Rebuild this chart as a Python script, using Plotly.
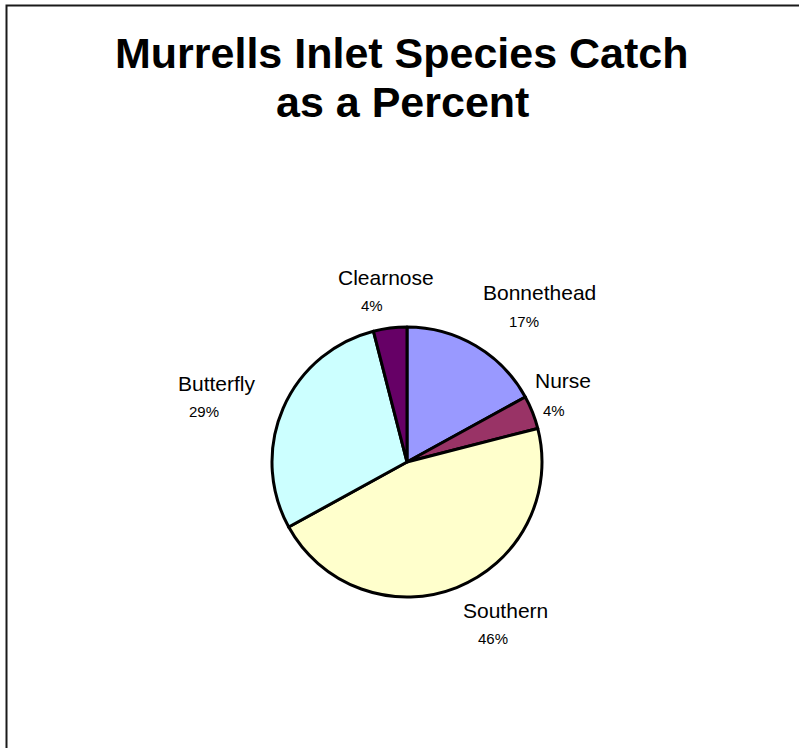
import plotly.graph_objects as go

# Catch share by species (percent of total catch)
species = ["Bonnethead", "Nurse", "Southern", "Butterfly", "Clearnose"]
percent = [17, 4, 46, 29, 4]
colors = ["#9999FF", "#993366", "#FFFFCC", "#CCFFFF", "#660066"]

# Label anchor points in pixels: (name x, name y, pct x, pct y)
label_px = {
    "Bonnethead": (539, 292, 524, 321),
    "Nurse": (563, 380, 554, 410),
    "Southern": (505, 610, 493, 638),
    "Butterfly": (217, 383, 204, 411),
    "Clearnose": (386, 277, 372, 305),
}

W, H = 799, 748
CX, CY, R = 407, 462, 135
FONT = "Liberation Sans, Arial, sans-serif"


def px(x, y):
    return x / W, 1 - y / H


fig = go.Figure(
    go.Pie(
        labels=species,
        values=percent,
        sort=False,
        direction="clockwise",
        rotation=0,
        marker=dict(colors=colors, line=dict(color="black", width=3)),
        textinfo="none",
        hoverinfo="label+percent",
        showlegend=False,
        domain=dict(x=[(CX - R) / W, (CX + R) / W],
                    y=[1 - (CY + R) / H, 1 - (CY - R) / H]),
    )
)

total = sum(percent)
annotations = []
for name, val in zip(species, percent):
    nx, ny, vx, vy = label_px[name]
    ax, ay = px(nx, ny)
    annotations.append(dict(x=ax, y=ay, xref="paper", yref="paper", text=name,
                            showarrow=False, xanchor="center", yanchor="middle",
                            font=dict(family=FONT, size=21, color="black")))
    bx, by = px(vx, vy)
    annotations.append(dict(x=bx, y=by, xref="paper", yref="paper",
                            text=f"{round(val / total * 100)}%",
                            showarrow=False, xanchor="center", yanchor="middle",
                            font=dict(family=FONT, size=15, color="black")))

for line, y in (("Murrells Inlet Species Catch", 53), ("as a Percent", 102)):
    tx, ty = px(402, y)
    annotations.append(dict(x=tx, y=ty, xref="paper", yref="paper",
                            text=f"<b>{line}</b>", showarrow=False,
                            xanchor="center", yanchor="middle",
                            font=dict(family=FONT, size=43, color="black")))

fig.update_layout(
    width=W, height=H,
    margin=dict(l=0, r=0, t=0, b=0),
    paper_bgcolor="white", plot_bgcolor="white",
    annotations=annotations,
    shapes=[dict(type="rect", xref="paper", yref="paper",
                 x0=6.5 / W, y0=1 - 5.5 / H, x1=1.05, y1=-0.05,
                 line=dict(color="#1a1a1a", width=2), fillcolor="rgba(0,0,0,0)")],
)

fig.write_html("out.html")
